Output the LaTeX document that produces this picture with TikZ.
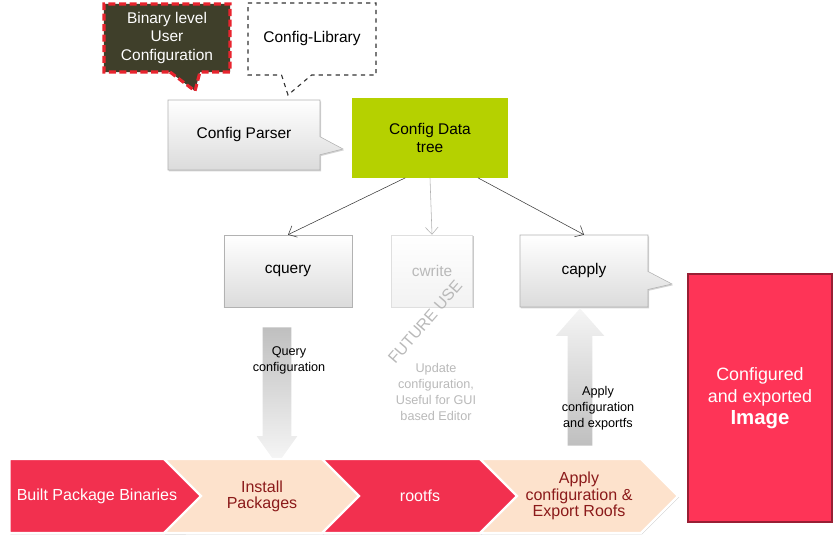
\documentclass[tikz,border=0pt]{standalone}
\usepackage{fontspec}
\setmainfont{Liberation Sans}
\usetikzlibrary{shapes.callouts,shapes.arrows,shapes.symbols,shadows,arrows.meta}
\definecolor{olivedark}{HTML}{3F3F2A}
\definecolor{dashred}{HTML}{E8242E}
\definecolor{treegreen}{HTML}{B5D100}
\definecolor{stepred}{HTML}{F2304F}
\definecolor{steppeach}{HTML}{FDE2CC}
\definecolor{steptext}{HTML}{8B1A1A}
\definecolor{imgred}{HTML}{FE3457}
\tikzset{
  softshadow/.style={drop shadow={opacity=0.35,shadow xshift=0.7pt,shadow yshift=-0.9pt}},
  greybox/.style={rectangle, draw=gray!60, top color=white, bottom color=gray!28, softshadow,
    minimum width=3.2cm, minimum height=1.8cm, align=center, font=\fontsize{11}{13}\selectfont},
  greycall/.style={rectangle callout, draw=gray!60, top color=white, bottom color=gray!28, softshadow,
    align=center, font=\fontsize{11}{13}\selectfont, callout pointer width=0.45cm},
  stepbox/.style={signal, signal pointer angle=90, draw=white, line width=1.6pt, softshadow,
    minimum height=1.85cm, align=center, font=\fontsize{11.4}{11.5}\selectfont, inner sep=1pt},
  redstep/.style={stepbox, fill=stepred, text=white},
  peachstep/.style={stepbox, fill=steppeach, text=steptext},
  bigarrow/.style={single arrow, draw=none, inner xsep=0pt},
  smalltext/.style={align=center, font=\fontsize{9}{11.5}\selectfont},
  link/.style={-{Straight Barb[length=5pt,width=9pt]}, draw=black!75, thin}
}
\begin{document}
\begin{tikzpicture}[x=0.025cm,y=-0.025cm]
    \useasboundingbox (0,0) rectangle (840,556);

    \node[rectangle callout, callout absolute pointer={(195,91)}, callout pointer width=0.75cm,
      fill=olivedark, draw=dashred, line width=2.2pt, dash pattern=on 5pt off 2.5pt, text=white,
      align=center, minimum width=3.15cm, minimum height=1.7cm, font=\fontsize{11}{13.5}\selectfont]
      (binary) at (167,38) {Binary level\\User\\Configuration};
    \node[rectangle callout, callout absolute pointer={(288,95)}, callout pointer width=0.75cm,
      fill=white, draw=black!80, thick, dashed, align=center, minimum width=3.2cm, minimum height=1.8cm,
      font=\fontsize{11}{13}\selectfont] (library) at (312,39) {Config-Library};

    \node[greycall, callout absolute pointer={(343,149)}, minimum width=3.8cm, minimum height=1.75cm]
      (parser) at (244,135) {Config Parser};
    \node[rectangle, fill=treegreen, minimum width=3.9cm, minimum height=1.98cm, align=center,
      font=\fontsize{11}{13}\selectfont] (tree) at (430,138) {Config Data\\tree};

    \node[greybox] (cquery) at (288,271) {cquery};
    \node[greybox, minimum width=2.03cm, draw=gray!25, top color=white, bottom color=gray!10,
      text=gray!55, drop shadow={opacity=0.12,shadow xshift=0.7pt,shadow yshift=-0.9pt}]
      (cwrite) at (432,271) {cwrite};
    \node[greycall, callout absolute pointer={(672,284)}, minimum width=3.2cm, minimum height=1.8cm]
      (capply) at (584,271) {capply};

    \draw[link] ([xshift=-0.62cm]tree.south) -- (cquery.north);
    \draw[link, draw=gray!60] (tree.south) -- (cwrite.north);
    \draw[link] ([xshift=1.2cm]tree.south) -- (capply.north);

    \node[bigarrow, rotate=-90, minimum height=3.43cm, inner ysep=0.35cm, single arrow head extend=0.15cm,
      single arrow tip angle=71, top color=gray!50, bottom color=gray!6] (query) at (277,386) {};
    \node[smalltext] (querytext) at (289,360) {Query\\configuration};

    \node[rotate=49, text=gray!55, font=\fontsize{11.5}{12}\selectfont, inner sep=0pt] (future) at (425,322) {FUTURE USE};
    \node[smalltext, text=gray!55, inner sep=0pt] (update) at (436,392) {Update\\configuration,\\Useful for GUI\\based Editor};

    \node[bigarrow, rotate=90, minimum height=3.43cm, inner ysep=0.3cm, single arrow head extend=0.3cm,
      single arrow tip angle=83, top color=gray!8, bottom color=gray!50] (apply) at (580,384) {};
    \node[smalltext] (applytext) at (598,408) {Apply\\configuration\\and exportfs};

    \node[redstep, signal to=east, minimum width=5.3cm] (built) at (97,496) {Built Package Binaries};
    \node[peachstep, signal from=west, signal to=east, minimum width=4.9cm] (install) at (262,496) {Install\\Packages};
    \node[redstep, signal from=west, signal to=east, minimum width=4.9cm] (rootfs) at (420,496) {rootfs};
    \node[peachstep, signal from=west, signal to=east, minimum width=4.95cm] (export) at (579,496)
      {Apply\\configuration \&\\Export Roofs};

    \node[rectangle, fill=imgred, draw=imgred!60!black, line width=1.2pt, softshadow,
      minimum width=3.6cm, minimum height=6.2cm, text=white, align=center,
      font=\fontsize{12.7}{15.5}\selectfont] (image) at (760,398)
      {Configured\\and exported\\{\fontsize{14.5}{17}\selectfont\bfseries Image}};
\end{tikzpicture}
\end{document}
